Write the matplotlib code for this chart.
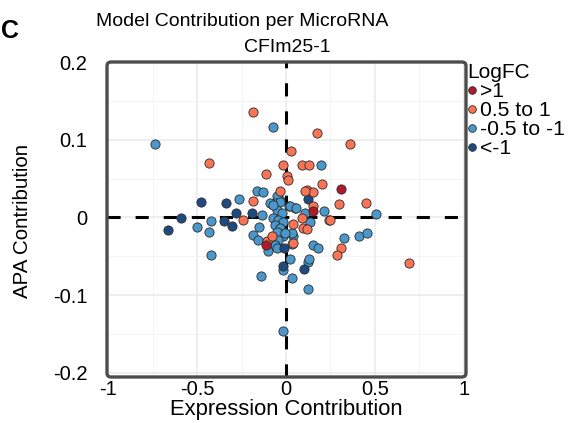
import matplotlib
matplotlib.use("Agg")
import matplotlib.pyplot as plt
from matplotlib.lines import Line2D
from matplotlib.patches import FancyBboxPatch

plt.rcParams['font.family'] = ['Liberation Sans', 'DejaVu Sans']

# ---- data (Expression contribution x, APA contribution y) ----
gt1_x = [0.311, 0.154, -0.114]
gt1_y = [0.036, 0.008, -0.036]

pos_x = [-0.184, -0.434, -0.114, -0.019, 0.026, 0.004, 0.013, -0.034, -0.188, -0.240,
         0.175, 0.360, 0.088, 0.131, 0.201, 0.117, 0.154, 0.107, 0.300, 0.450,
         0.154, 0.088, 0.240, 0.250, 0.040, 0.097, 0.117, 0.041, 0.310, 0.289,
         0.693, -0.105, -0.080]
pos_y = [0.135, 0.070, 0.056, 0.067, 0.086, 0.053, 0.048, 0.034, 0.021, -0.003,
         0.109, 0.095, 0.067, 0.067, 0.043, 0.035, 0.033, 0.034, 0.017, 0.018,
         0.015, -0.001, -0.004, -0.003, -0.009, -0.014, -0.015, -0.033, -0.040, -0.049,
         -0.059, -0.030, -0.024]

neg_x = [-0.071, -0.738, -0.165, -0.131, -0.263, -0.081, -0.034, -0.053, -0.137, -0.420,
         -0.500, -0.432, -0.422, -0.150, -0.188, -0.160, -0.142, -0.015, -0.017, -0.103,
         -0.043, 0.197, 0.019, 0.050, 0.107, 0.216, 0.505, 0.135, 0.327, 0.410,
         0.454, 0.150, 0.178, 0.126, 0.036, 0.126, 0.023, 0.040, -0.015, 0.032,
         -0.062, -0.034, -0.052, -0.024, -0.072, -0.043, -0.015, -0.062, -0.034, -0.052,
         -0.043, -0.062, 0.022, 0.056, -0.006, 0.129, -0.052, 0.032, -0.090, -0.071]
neg_y = [0.116, 0.095, 0.034, 0.033, 0.024, 0.017, 0.022, 0.027, 0.003, -0.005,
         -0.012, -0.019, -0.049, -0.013, -0.023, -0.029, -0.076, -0.068, -0.146, -0.043,
         -0.038, 0.067, 0.014, 0.012, 0.005, 0.008, 0.004, -0.006, -0.026, -0.024,
         -0.020, -0.036, -0.039, -0.057, -0.078, -0.092, -0.054, -0.024, -0.024, -0.020,
         0.018, 0.020, 0.009, 0.005, -0.001, -0.004, -0.006, -0.010, -0.014, -0.019,
         -0.029, -0.036, 0.014, 0.012, -0.020, -0.053, -0.040, -0.034, 0.018, 0.016]

lt1_x = [-0.480, -0.340, -0.280, -0.190, -0.593, -0.350, -0.306, -0.666, 0.122, 0.101,
         -0.015, -0.011]
lt1_y = [0.020, 0.019, 0.005, 0.006, -0.001, -0.005, -0.011, -0.016, 0.023, -0.067,
         -0.063, -0.039]

legend_labels = [">1", "0.5 to 1", "-0.5 to -1", "<-1"]
colors = ["#B2182B", "#FB7355", "#4A98CB", "#1F4A80"]

x_ticks = [-1, -0.5, 0, 0.5, 1]
x_ticklabels = ["-1", "-0.5", "0", "0.5", "1"]
y_ticks = [-0.2, -0.1, 0, 0.1, 0.2]
y_ticklabels = ["-0.2", "-0.1", "0", "0.1", "0.2"]

# ---- figure ----
fig = plt.figure(figsize=(5.72, 4.23), dpi=100)
L, R, T, B = 107 / 572, 466 / 572, 1 - 62 / 423, 1 - 377 / 423
ax = fig.add_axes([L, B, R - L, T - B])

ax.set_xlim(-1.008, 1.013)
ax.set_ylim(-0.2055, 0.2)

ax.set_xticks(x_ticks)
ax.set_xticklabels(x_ticklabels)
ax.set_xticks([-0.75, -0.25, 0.25, 0.75], minor=True)
ax.set_yticks(y_ticks)
ax.set_yticklabels(y_ticklabels)
ax.set_yticks([-0.15, -0.05, 0.05, 0.15], minor=True)
ax.grid(True, which='major', color='#EBEBEB', lw=1.2, zorder=0)
ax.grid(True, which='minor', color='#F2F2F2', lw=0.6, zorder=0)
ax.set_axisbelow(True)
ax.tick_params(which='both', length=0)
ax.tick_params(axis='x', pad=2.5, labelsize=14.5)
ax.tick_params(axis='y', pad=14, labelsize=14.5)
for s in ax.spines.values():
    s.set_visible(False)

border = FancyBboxPatch((0, 0), 1, 1, boxstyle="round,pad=0,rounding_size=0.012",
                        transform=ax.transAxes, fill=False, ec='#4D4D4D', lw=2.4,
                        clip_on=False, zorder=5)
ax.add_patch(border)

ax.axhline(0, color='black', lw=2.2, dashes=(4.3, 4.9), zorder=1)
ax.axvline(0, color='black', lw=2.2, dashes=(4.3, 4.9), zorder=1)

kw = dict(s=44, edgecolors='#2B2B2B', linewidths=0.6, zorder=3)
ax.scatter(neg_x, neg_y, c=colors[2], **kw)
ax.scatter(lt1_x, lt1_y, c=colors[3], **kw)
ax.scatter(pos_x, pos_y, c=colors[1], **kw)
ax.scatter(gt1_x, gt1_y, c=colors[0], **kw)

ax.set_xlabel("Expression Contribution", fontsize=15.8, va='center')
ax.xaxis.set_label_coords((286.5 - 107) / 359, -(410 - 377) / 315)
ax.set_ylabel("APA Contribution", fontsize=14.8, va='center')
ax.yaxis.set_label_coords(-(107 - 23) / 359, (377 - 221) / 315)

fig.text(242 / 572, 1 - 21 / 423, "Model Contribution per MicroRNA", ha='center', va='center', fontsize=14)
fig.text(287 / 572, 1 - 47 / 423, "CFIm25-1", ha='center', va='center', fontsize=14)
fig.text(10 / 572, 1 - 31 / 423, "C", ha='center', va='center', fontsize=18, fontweight='bold')

handles = [Line2D([], [], ls='', marker='o', markersize=5.5, markerfacecolor=c,
                  markeredgecolor='#2B2B2B', markeredgewidth=0.6) for c in colors]
leg = fig.legend(handles, legend_labels, title="LogFC", loc='upper left',
                 bbox_to_anchor=(467 / 572, 1 - 63 / 423), frameon=False, fontsize=15.2,
                 title_fontsize=15, borderpad=0, borderaxespad=0, handlelength=0.45,
                 handletextpad=0.15, labelspacing=0.0)
leg._legend_box.align = 'left'

fig.savefig("out.png", dpi=100)
